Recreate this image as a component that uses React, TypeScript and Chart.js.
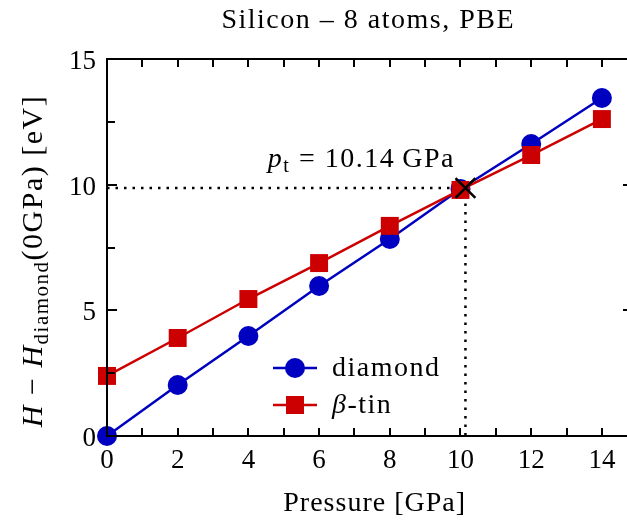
import { useEffect, useRef } from "react";
import { Chart, registerables } from "chart.js";

Chart.register(...registerables);

const pressures = [0, 2, 4, 6, 8, 10, 12, 14];
const diamondH = [0, 2.03, 3.98, 5.97, 7.84, 9.83, 11.62, 13.45];
const betaTinH = [2.39, 3.9, 5.45, 6.88, 8.36, 9.79, 11.18, 12.61];
const transitionP = 10.14;
const transitionH = 9.87;
const xTickLabels = [0, 2, 4, 6, 8, 10, 12, 14];
const xMinorTicks = [1, 3, 5, 7, 9, 11, 13];
const yTickLabels = [0, 5, 10, 15];
const yMinorTicks = [2.5, 7.5, 12.5];
const titleText = "Silicon – 8 atoms, PBE";
const xLabelText = "Pressure [GPa]";

const BLUE = "#0000c0";
const RED = "#cc0000";
const FONT = '"Liberation Serif", "DejaVu Serif", serif';

type Seg = { t: string; f: string; dy: number };

function segWidth(ctx: CanvasRenderingContext2D, segs: Seg[]) {
  let w = 0;
  segs.forEach((s) => {
    ctx.font = s.f;
    w += ctx.measureText(s.t).width;
  });
  return w;
}

function drawSegs(ctx: CanvasRenderingContext2D, segs: Seg[], x: number, y: number) {
  let cx = x;
  segs.forEach((s) => {
    ctx.font = s.f;
    ctx.fillText(s.t, cx, y + s.dy);
    cx += ctx.measureText(s.t).width;
  });
}

const decorPlugin = {
  id: "decor",
  afterDraw(chart: any) {
    const ctx: any = chart.ctx;
    const { left, right, top, bottom } = chart.chartArea;
    const xs = chart.scales.x;
    const ys = chart.scales.y;
    ctx.save();
    ctx.strokeStyle = "#000";
    ctx.fillStyle = "#000";
    ctx.lineWidth = 2;
    ctx.strokeRect(left, top, right - left, bottom - top);

    ctx.beginPath();
    [...xTickLabels, ...xMinorTicks].forEach((v) => {
      const px = Math.round(xs.getPixelForValue(v));
      ctx.moveTo(px, bottom);
      ctx.lineTo(px, bottom - 8);
      ctx.moveTo(px, top);
      ctx.lineTo(px, top + 8);
    });
    yTickLabels.forEach((v) => {
      const py = Math.round(ys.getPixelForValue(v));
      ctx.moveTo(left, py);
      ctx.lineTo(left + 10, py);
      ctx.moveTo(right, py);
      ctx.lineTo(right - 10, py);
    });
    yMinorTicks.forEach((v) => {
      const py = Math.round(ys.getPixelForValue(v));
      ctx.moveTo(left, py);
      ctx.lineTo(left + 8, py);
      ctx.moveTo(right, py);
      ctx.lineTo(right - 5, py);
    });
    ctx.stroke();

    // tick labels
    ctx.letterSpacing = "0px";
    ctx.font = `27px ${FONT}`;
    ctx.textAlign = "center";
    ctx.textBaseline = "alphabetic";
    xTickLabels.forEach((v) => {
      ctx.fillText(String(v), xs.getPixelForValue(v), bottom + 32);
    });
    ctx.textAlign = "right";
    yTickLabels.forEach((v) => {
      ctx.fillText(String(v), left - 11, ys.getPixelForValue(v) + 10);
    });

    ctx.textAlign = "left";
    ctx.letterSpacing = "1.5px";

    // title (right edge at 513)
    const title: Seg[] = [{ t: titleText, f: `28px ${FONT}`, dy: 0 }];
    drawSegs(ctx, title, 515 - segWidth(ctx, title), 28);

    // x label (right edge at 464)
    ctx.letterSpacing = "1px";
    const xl: Seg[] = [{ t: xLabelText, f: `28px ${FONT}`, dy: 0 }];
    drawSegs(ctx, xl, 466 - segWidth(ctx, xl), 511);

    // y label (rotated, with subscript)
    ctx.letterSpacing = "1.5px";
    const yl: Seg[] = [
      { t: "H", f: `italic 30px ${FONT}`, dy: 0 },
      { t: " − ", f: `30px ${FONT}`, dy: 0 },
      { t: "H", f: `italic 30px ${FONT}`, dy: 0 },
      { t: "diamond", f: `21px ${FONT}`, dy: 6 },
      { t: "(0GPa) [eV]", f: `30px ${FONT}`, dy: 0 },
    ];
    ctx.save();
    ctx.translate(42, 261);
    ctx.rotate(-Math.PI / 2);
    drawSegs(ctx, yl, -segWidth(ctx, yl) / 2, 0);
    ctx.restore();

    // annotation p_t = 10.14 GPa (right edge at 453)
    const ann: Seg[] = [
      { t: "p", f: `italic 28px ${FONT}`, dy: 0 },
      { t: "t", f: `20px ${FONT}`, dy: 5 },
      { t: " = " + transitionP.toFixed(2) + "\u2009GPa", f: `28px ${FONT}`, dy: 0 },
    ];
    drawSegs(ctx, ann, 455 - segWidth(ctx, ann), 167);

    // legend
    const ds = chart.data.datasets;
    const items = [
      { d: ds[0], y: 368, label: [{ t: "diamond", f: `28px ${FONT}`, dy: 0 }] },
      {
        d: ds[1],
        y: 405,
        label: [
          { t: "β", f: `italic 28px ${FONT}`, dy: 0 },
          { t: "-tin", f: `28px ${FONT}`, dy: 0 },
        ],
      },
    ];
    items.forEach((it) => {
      ctx.strokeStyle = it.d.borderColor;
      ctx.fillStyle = it.d.backgroundColor;
      ctx.lineWidth = 2.5;
      ctx.beginPath();
      ctx.moveTo(273, it.y);
      ctx.lineTo(317, it.y);
      ctx.stroke();
      if (it.d.pointStyle === "circle") {
        ctx.beginPath();
        ctx.arc(295, it.y, 10, 0, Math.PI * 2);
        ctx.fill();
      } else {
        ctx.fillRect(295 - 9, it.y - 9, 18, 18);
      }
      ctx.fillStyle = "#000";
      drawSegs(ctx, it.label, 332, it.y + 8);
    });
    ctx.restore();
  },
};

export default function App() {
  const ref = useRef<HTMLCanvasElement | null>(null);
  useEffect(() => {
    if (!ref.current) return;
    const chart = new Chart(ref.current, {
      type: "line",
      data: {
        datasets: [
          {
            label: "diamond",
            data: pressures.map((p, i) => ({ x: p, y: diamondH[i] })),
            borderColor: BLUE,
            backgroundColor: BLUE,
            pointStyle: "circle",
            pointRadius: 10,
            pointBorderWidth: 0,
            borderWidth: 2.5,
            order: 2,
            clip: false,
          } as any,
          {
            label: "β-tin",
            data: pressures.map((p, i) => ({ x: p, y: betaTinH[i] })),
            borderColor: RED,
            backgroundColor: RED,
            pointStyle: "rect",
            pointRadius: 12.7,
            pointBorderWidth: 0,
            borderWidth: 2.5,
            order: 1,
            clip: false,
          } as any,
          {
            label: "guide",
            data: [
              { x: 0, y: transitionH },
              { x: transitionP, y: transitionH },
              { x: transitionP, y: 0 },
            ],
            borderColor: "#000",
            borderWidth: 2.5,
            borderDash: [2.5, 6],
            pointRadius: 0,
            order: 3,
            clip: false,
          } as any,
          {
            label: "transition",
            data: [{ x: transitionP, y: transitionH }],
            showLine: false,
            pointStyle: "crossRot",
            pointRadius: 14,
            borderColor: "#000",
            pointBorderWidth: 2.5,
            order: 0,
            clip: false,
          } as any,
        ],
      },
      options: {
        animation: false,
        responsive: false,
        devicePixelRatio: 1,
        layout: { autoPadding: false, padding: { left: 107, right: 7, top: 59, bottom: 86 } },
        scales: {
          x: { type: "linear", min: 0, max: 14.88, display: false },
          y: { type: "linear", min: 0, max: 15, display: false },
        },
        plugins: {
          legend: { display: false },
          tooltip: { enabled: false },
          title: { display: false },
        },
        elements: { line: { tension: 0 } },
      } as any,
      plugins: [decorPlugin],
    });
    return () => chart.destroy();
  }, []);
  return (
    <div
      style={{
        position: "fixed",
        left: 0,
        top: 0,
        width: 627,
        height: 522,
        overflow: "hidden",
        background: "#fff",
      }}
    >
      <canvas ref={ref} width={640} height={522} style={{ display: "block" }} />
    </div>
  );
}
